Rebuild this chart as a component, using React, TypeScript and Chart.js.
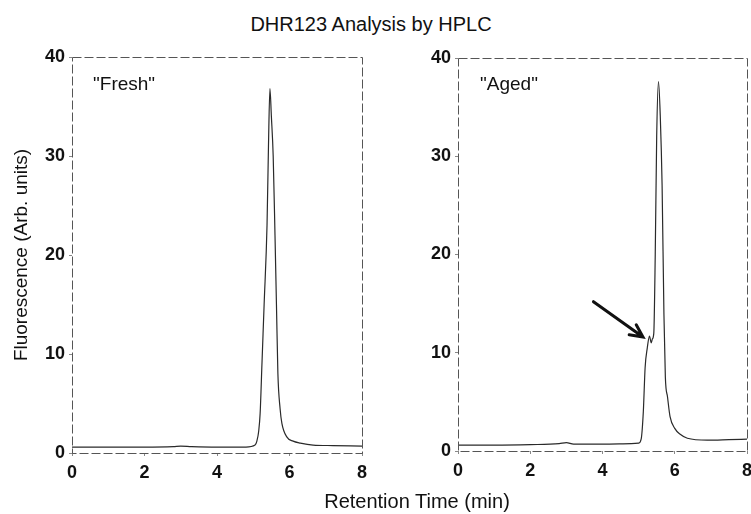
import React, { useEffect, useRef } from 'react';
import { Chart, registerables } from 'chart.js';

Chart.register(...registerables);

// ---- data ----
const FRESH_TIME = [0, 0.5, 1, 2, 2.8, 3.0, 3.3, 4, 4.8, 5.05, 5.1, 5.15, 5.19, 5.24, 5.3, 5.38, 5.42, 5.46, 5.5, 5.55, 5.6, 5.64, 5.68, 5.74, 5.79, 5.93, 6.1, 6.3, 6.65, 7.2, 8];
const FRESH_SIGNAL = [0.6, 0.6, 0.6, 0.6, 0.65, 0.7, 0.65, 0.6, 0.6, 0.8, 1.2, 2.2, 4, 9, 15, 23, 31, 36.8, 34, 30, 22, 15, 8, 4.5, 3, 1.6, 1.2, 1.0, 0.8, 0.75, 0.7];

const AGED_TIME = [0, 1, 2, 2.8, 3.0, 3.2, 4, 4.8, 5.0, 5.07, 5.13, 5.18, 5.24, 5.3, 5.35, 5.38, 5.42, 5.46, 5.5, 5.55, 5.6, 5.65, 5.7, 5.74, 5.8, 5.87, 6.0, 6.15, 6.35, 6.9, 7.5, 8];
const AGED_SIGNAL = [0.6, 0.6, 0.65, 0.75, 0.85, 0.7, 0.7, 0.75, 0.8, 1.2, 4, 8.5, 10.5, 11.7, 11.0, 11.4, 12, 20, 32, 37.6, 34, 27, 14, 7.5, 5.5, 3.5, 2.3, 1.7, 1.3, 1.1, 1.15, 1.2];

const X_TICKS = [0, 2, 4, 6, 8];
const Y_TICKS = [0, 10, 20, 30, 40];

const TITLE = 'DHR123 Analysis by HPLC';
const X_TITLE = 'Retention Time (min)';
const Y_TITLE = 'Fluorescence (Arb. units)';
const FRESH_LABEL = '"Fresh"';
const AGED_LABEL = '"Aged"';
const FRESH_LABEL_AT = [0.58, 37.2];
const AGED_LABEL_AT = [0.61, 37.3];
const ARROW_FROM = [3.75, 15.2];
const ARROW_TO = [5.12, 11.6];

const FONT = '"Liberation Sans", Arial, Helvetica, sans-serif';

const decorPlugin = {
  id: 'panelDecor',
  afterDraw(chart: any, _args: any, opts: any) {
    const { ctx, chartArea: a, scales } = chart;
    ctx.save();
    ctx.strokeStyle = '#555';
    ctx.lineWidth = 1;
    ctx.setLineDash([9, 3]);
    ctx.strokeRect(Math.round(a.left) + 0.5, Math.round(a.top) + 0.5, Math.round(a.width), Math.round(a.height));
    ctx.setLineDash([]);
    ctx.font = '19px ' + FONT;
    ctx.fillStyle = '#111';
    ctx.textBaseline = 'middle';
    ctx.textAlign = 'left';
    ctx.fillText(opts.label, scales.x.getPixelForValue(opts.labelAt[0]), scales.y.getPixelForValue(opts.labelAt[1]));
    if (opts.arrowFrom) {
      const x1 = scales.x.getPixelForValue(opts.arrowFrom[0]);
      const y1 = scales.y.getPixelForValue(opts.arrowFrom[1]);
      const x2 = scales.x.getPixelForValue(opts.arrowTo[0]);
      const y2 = scales.y.getPixelForValue(opts.arrowTo[1]);
      const ang = Math.atan2(y2 - y1, x2 - x1);
      ctx.strokeStyle = '#111';
      ctx.lineWidth = 3;
      ctx.lineCap = 'round';
      ctx.beginPath();
      ctx.moveTo(x1, y1);
      ctx.lineTo(x2, y2);
      const L = 14;
      const s = 0.45;
      ctx.moveTo(x2 - L * Math.cos(ang - s), y2 - L * Math.sin(ang - s));
      ctx.lineTo(x2, y2);
      ctx.lineTo(x2 - L * Math.cos(ang + s), y2 - L * Math.sin(ang + s));
      ctx.stroke();
    }
    ctx.restore();
  },
};

function makeConfig(times: number[], values: number[], p: any) {
  return {
    type: 'line' as const,
    data: {
      datasets: [
        {
          data: times.map((t, i) => ({ x: t, y: values[i] })),
          borderColor: '#2a2a2a',
          borderWidth: 1.2,
          pointRadius: 0,
          fill: false,
          cubicInterpolationMode: 'monotone' as const,
        },
      ],
    },
    options: {
      responsive: false,
      animation: false as const,
      layout: { padding: p.padding },
      plugins: {
        legend: { display: false },
        tooltip: { enabled: false },
        panelDecor: p.decor,
      },
      scales: {
        x: {
          type: 'linear' as const,
          min: 0,
          max: 8,
          afterBuildTicks: (s: any) => {
            s.ticks = X_TICKS.map((v) => ({ value: v }));
          },
          afterFit: (s: any) => {
            s.height = 30;
            s.paddingLeft = 0;
            s.paddingRight = 0;
          },
          border: { display: false },
          grid: { drawOnChartArea: false, drawTicks: true, tickLength: 3, color: '#888' },
          ticks: { color: '#111', font: { family: FONT, size: 18, weight: 'bold' as const }, padding: 6, maxRotation: 0 },
        },
        y: {
          type: 'linear' as const,
          min: 0,
          max: 40,
          afterBuildTicks: (s: any) => {
            s.ticks = Y_TICKS.map((v) => ({ value: v }));
          },
          afterFit: (s: any) => {
            s.width = p.yWidth;
          },
          border: { display: false },
          grid: { drawOnChartArea: false, drawTicks: true, tickLength: 3, color: '#888' },
          ticks: { color: '#111', font: { family: FONT, size: 18, weight: 'bold' as const }, padding: 4 },
          title: p.yTitle
            ? { display: true, text: Y_TITLE, color: '#111', font: { family: FONT, size: 19 }, padding: { top: 10, bottom: 0 } }
            : { display: false },
        },
      },
    },
    plugins: [decorPlugin],
  };
}

export default function App() {
  const leftRef = useRef<HTMLCanvasElement>(null);
  const rightRef = useRef<HTMLCanvasElement>(null);

  useEffect(() => {
    const left = new Chart(
      leftRef.current as HTMLCanvasElement,
      makeConfig(FRESH_TIME, FRESH_SIGNAL, {
        padding: { left: 0, right: 13, top: 57, bottom: 31 },
        yWidth: 72,
        yTitle: true,
        decor: { label: FRESH_LABEL, labelAt: FRESH_LABEL_AT },
      }) as any
    );
    const right = new Chart(
      rightRef.current as HTMLCanvasElement,
      makeConfig(AGED_TIME, AGED_SIGNAL, {
        padding: { left: 0, right: 4, top: 58, bottom: 33 },
        yWidth: 83,
        yTitle: false,
        decor: { label: AGED_LABEL, labelAt: AGED_LABEL_AT, arrowFrom: ARROW_FROM, arrowTo: ARROW_TO },
      }) as any
    );
    return () => {
      left.destroy();
      right.destroy();
    };
  }, []);

  return (
    <div style={{ position: 'fixed', left: 0, top: 0, width: 751, height: 514, background: '#fff', overflow: 'hidden' }}>
      <div
        style={{
          position: 'absolute', left: 0, top: 13, width: 742, textAlign: 'center',
          fontFamily: FONT, fontSize: 20, lineHeight: '22px', color: '#111',
        }}
      >
        {TITLE}
      </div>
      <canvas ref={leftRef} width={375} height={514} style={{ position: 'absolute', left: 0, top: 0, width: 375, height: 514 }} />
      <canvas ref={rightRef} width={376} height={514} style={{ position: 'absolute', left: 375, top: 0, width: 376, height: 514 }} />
      <div
        style={{
          position: 'absolute', left: 0, top: 490, width: 834, textAlign: 'center',
          fontFamily: FONT, fontSize: 20, lineHeight: '22px', color: '#111',
        }}
      >
        {X_TITLE}
      </div>
    </div>
  );
}
